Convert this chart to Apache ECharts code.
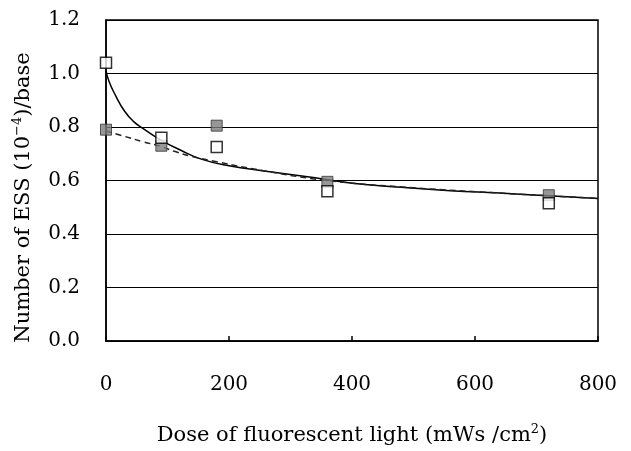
<!DOCTYPE html>
<html>
<head>
<meta charset="utf-8">
<script src="https://cdn.jsdelivr.net/npm/echarts@6/dist/echarts.min.js"></script>
<style>
  html, body { margin: 0; padding: 0; background: #fff; }
  #chart { width: 631px; height: 451px; }
</style>
</head>
<body>
<div id="chart"></div>
<script>
// open squares
const openDose = [0, 90, 180, 360, 720];
const openVal = [1.04, 0.76, 0.725, 0.56, 0.515];
// filled squares
const filledDose = [0, 90, 180, 360, 720];
const filledVal = [0.79, 0.73, 0.805, 0.595, 0.545];
// solid fitted curve
const solidDose = [0, 5, 15, 30, 45, 60, 90, 120, 155, 200, 260, 340, 400, 480, 560, 640, 720, 800];
const solidVal = [1.01, 0.97, 0.92, 0.86, 0.82, 0.795, 0.75, 0.715, 0.68, 0.655, 0.635, 0.61, 0.59, 0.575, 0.562, 0.553, 0.543, 0.533];
// dashed fitted curve
const dashDose = [0, 30, 60, 90, 110, 140, 180, 260, 360, 480, 640, 800];
const dashVal = [0.785, 0.765, 0.745, 0.727, 0.71, 0.69, 0.67, 0.635, 0.6, 0.576, 0.553, 0.533];
const yTicks = [0, 0.2, 0.4, 0.6, 0.8, 1.0, 1.2];

const font = 'DejaVu Serif';
const chart = echarts.init(document.getElementById('chart'));

const pairs = (xs, ys) => xs.map((x, i) => [x, ys[i]]);
const supStyle = { fontFamily: font, fontSize: 13, verticalAlign: 'top', padding: [0, 0, 12, 0] };

chart.setOption({
  animation: false,
  textStyle: { fontFamily: font, color: '#000' },
  grid: {
    left: 106, right: 33, top: 20, bottom: 104,
    show: true, borderColor: '#000', borderWidth: 1.5, backgroundColor: 'transparent'
  },
  xAxis: {
    type: 'value',
    min: 0, max: 800, interval: 200,
    axisLine: { show: true, lineStyle: { color: '#000', width: 1.5 } },
    axisTick: { show: true, inside: true, length: 5, lineStyle: { color: '#000', width: 1.5 } },
    splitLine: { show: false },
    axisLabel: { fontFamily: font, fontSize: 20, color: '#000', margin: 34 },
    name: 'Dose of fluorescent light (mWs /cm{sup|2})',
    nameLocation: 'middle',
    nameGap: 82,
    nameTextStyle: { fontFamily: font, fontSize: 21, color: '#000', rich: { sup: supStyle } }
  },
  yAxis: {
    type: 'value',
    min: 0, max: 1.2, interval: 0.2,
    axisLine: { show: true, lineStyle: { color: '#000', width: 1.5 } },
    axisTick: { show: false },
    splitLine: { show: true, lineStyle: { color: '#000', width: 1 } },
    axisLabel: {
      fontFamily: font, fontSize: 20, color: '#000', margin: 26,
      formatter: (v) => v.toFixed(1)
    },
    name: 'Number of ESS (10{sup|−4})/base',
    nameLocation: 'middle',
    nameGap: 70,
    nameTextStyle: { fontFamily: font, fontSize: 21, color: '#000', padding: [0, 34, 0, 0], rich: { sup: supStyle } }
  },
  series: [
    {
      type: 'line',
      data: pairs(solidDose, solidVal),
      smooth: true,
      showSymbol: false,
      lineStyle: { color: '#000', width: 1.5 },
      z: 2
    },
    {
      type: 'line',
      data: pairs(dashDose, dashVal),
      smooth: true,
      showSymbol: false,
      lineStyle: { color: '#222', width: 1.5, type: [6, 4] },
      z: 2
    },
    {
      type: 'scatter',
      data: pairs(filledDose, filledVal),
      symbol: 'rect',
      symbolSize: 11,
      itemStyle: { color: '#7d7d7d', borderColor: '#333', borderWidth: 1 },
      z: 3
    },
    {
      type: 'scatter',
      data: pairs(openDose, openVal),
      symbol: 'rect',
      symbolSize: 11,
      itemStyle: { color: '#fff', borderColor: '#000', borderWidth: 1.5 },
      z: 4
    }
  ]
});
</script>
</body>
</html>
